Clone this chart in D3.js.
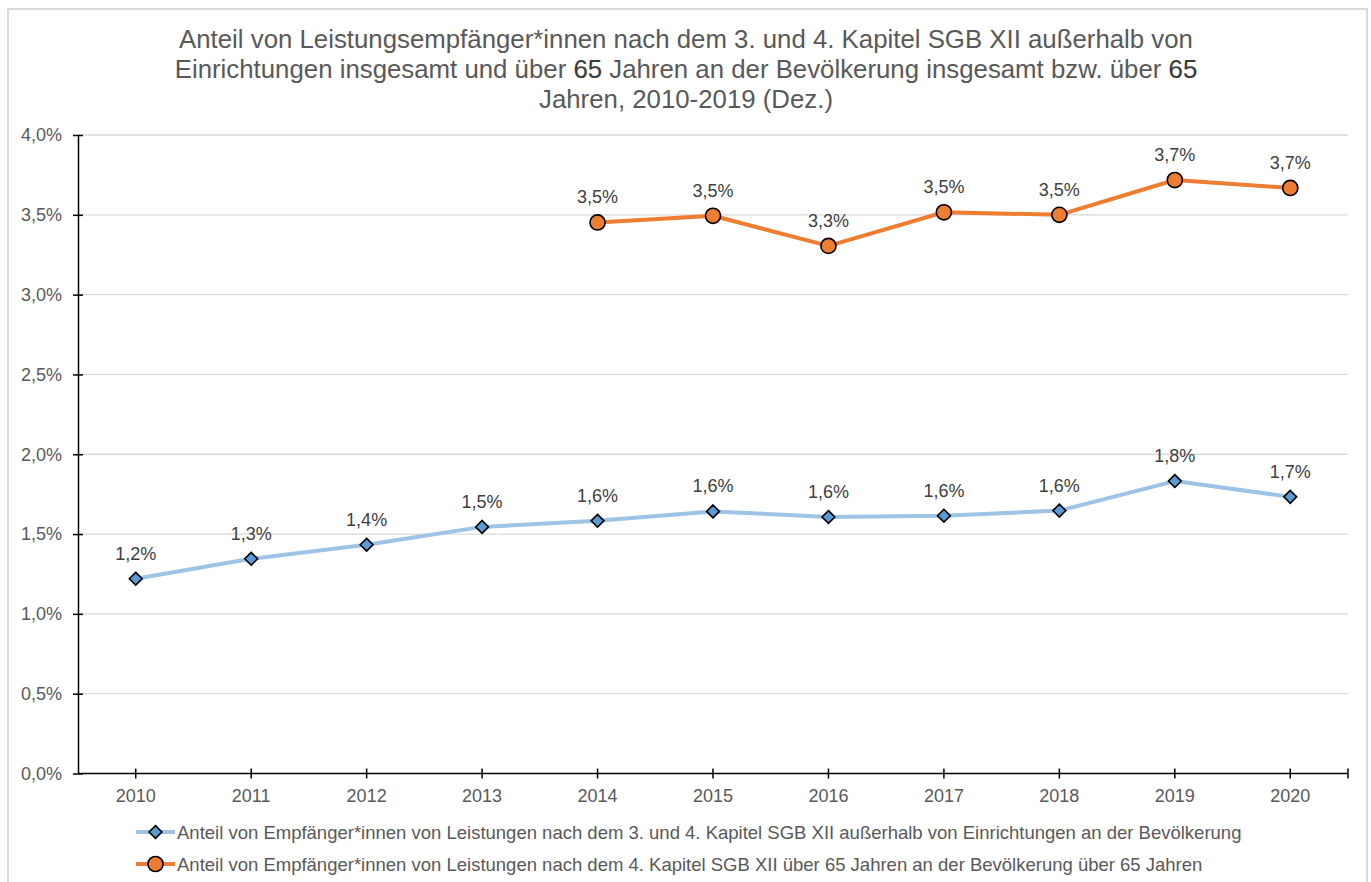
<!DOCTYPE html>
<html>
  <head>
    <meta charset="utf-8">
    <title>Anteil Leistungsempfänger*innen SGB XII</title>
    <script src="https://cdn.jsdelivr.net/npm/d3@7"></script>
    <style>
      body { margin: 0; background: #fff; }
      svg { display: block; font-family: "Liberation Sans", Arial, sans-serif; }
      .tick text { fill: #595959; font-size: 18px; }
      .label { fill: #404040; font-size: 18px; text-anchor: middle; }
    </style>
  </head>
  <body>
    <svg id="chart" width="1371" height="882"></svg>
    <script>
      // data
      years = ["2010", "2011", "2012", "2013", "2014", "2015", "2016", "2017", "2018", "2019", "2020"];
      shareTotal = [1.22, 1.345, 1.433, 1.545, 1.583, 1.642, 1.607, 1.615, 1.647, 1.832, 1.733];
      share65 = [null, null, null, null, 3.452, 3.494, 3.305, 3.516, 3.5, 3.718, 3.668];
      yTicks = [0, 0.5, 1, 1.5, 2, 2.5, 3, 3.5, 4];
      titleLines = [
        "Anteil von Leistungsempfänger*innen nach dem 3. und 4. Kapitel SGB XII außerhalb von",
        "Einrichtungen insgesamt und über 65 Jahren an der Bevölkerung insgesamt bzw. über 65",
        "Jahren, 2010-2019 (Dez.)"
      ];
      legendLabels = [
        "Anteil von Empfänger*innen von Leistungen nach dem 3. und 4. Kapitel SGB XII außerhalb von Einrichtungen an der Bevölkerung",
        "Anteil von Empfänger*innen von Leistungen nach dem 4. Kapitel SGB XII über 65 Jahren an der Bevölkerung über 65 Jahren"
      ];

      svg = d3.select("#chart");
      margin = { top: 135, right: 23, bottom: 108, left: 78 };
      width = 1371;
      height = 882;
      fmt = function(v) { return d3.format(".1f")(v).replace(".", ",") + "%"; };

      // frame
      svg.append("rect")
        .attr("x", 8).attr("y", 9)
        .attr("width", 1359).attr("height", 890)
        .attr("fill", "none")
        .attr("stroke", "#d9d9d9")
        .attr("stroke-width", 2);

      // title ("65" is a touch darker in the original)
      titleLines.forEach(function(t, i) {
        txt = svg.append("text")
          .attr("x", 686)
          .attr("y", 48 + i * 30)
          .attr("fill", "#595959")
          .attr("font-size", "25.8px")
          .attr("text-anchor", "middle");
        t.split("65").forEach(function(part, j) {
          if (j > 0) {
            txt.append("tspan").attr("fill", "#3a3a3a").attr("stroke", "#3a3a3a").attr("stroke-width", 0.15).text("65");
          }
          txt.append("tspan").text(part);
        });
      });

      x = d3.scaleBand()
        .domain(years)
        .range([margin.left, width - margin.right]);
      y = d3.scaleLinear()
        .domain([0, 4])
        .range([height - margin.bottom - 0.5, margin.top]);
      cx = function(d) { return x(d) + x.bandwidth() / 2; };

      // gridlines
      svg.append("g")
        .selectAll("line")
        .data(yTicks.slice(1))
      .enter().append("line")
        .attr("x1", margin.left).attr("x2", width - margin.right)
        .attr("y1", function(d) { return y(d); })
        .attr("y2", function(d) { return y(d); })
        .attr("stroke", "#d9d9d9")
        .attr("stroke-width", 1.3);

      // y axis
      yAxis = svg.append("g")
        .attr("transform", "translate(" + margin.left + ",0)")
        .call(d3.axisLeft(y).tickValues(yTicks).tickFormat(fmt).tickSize(5).tickPadding(11).tickSizeOuter(0));
      yAxis.select(".domain").attr("stroke", "#000").attr("stroke-width", 1.5);
      yAxis.selectAll(".tick line").attr("stroke", "#000").attr("stroke-width", 1.5).attr("x2", 5).attr("x1", -5);

      // x axis
      x0 = y(0);
      xAxis = svg.append("g");
      xAxis.append("line")
        .attr("x1", margin.left).attr("x2", width - margin.right)
        .attr("y1", x0).attr("y2", x0)
        .attr("stroke", "#000").attr("stroke-width", 1.5);
      xAxis.selectAll(".xt")
        .data(years.map(cx).concat([width - margin.right]))
      .enter().append("line")
        .attr("x1", function(d) { return d; }).attr("x2", function(d) { return d; })
        .attr("y1", x0 - 5).attr("y2", x0 + 5)
        .attr("stroke", "#000").attr("stroke-width", 1.5);
      xAxis.selectAll("text")
        .data(years)
      .enter().append("text")
        .attr("x", cx)
        .attr("y", x0 + 28)
        .attr("fill", "#595959")
        .attr("font-size", "18px")
        .attr("text-anchor", "middle")
        .text(function(d) { return d; });

      // series
      series = [
        { values: shareTotal, line: "#9dc3e6", fill: "#5b9bd5", symbol: d3.symbolDiamond2, size: 105 },
        { values: share65, line: "#ed7d31", fill: "#ed7d31", symbol: d3.symbolCircle, size: 180 }
      ];

      series.forEach(function(s) {
        pts = years.map(function(yr, i) { return { year: yr, v: s.values[i] }; })
          .filter(function(d) { return d.v !== null; });
        line = d3.line()
          .x(function(d) { return cx(d.year); })
          .y(function(d) { return y(d.v); });
        svg.append("path")
          .datum(pts)
          .attr("d", line)
          .attr("fill", "none")
          .attr("stroke", s.line)
          .attr("stroke-width", 4)
          .attr("stroke-linejoin", "round");
        svg.append("g")
          .selectAll("path")
          .data(pts)
        .enter().append("path")
          .attr("d", d3.symbol().type(s.symbol).size(s.size))
          .attr("transform", function(d) { return "translate(" + cx(d.year) + "," + y(d.v) + ")"; })
          .attr("fill", s.fill)
          .attr("stroke", "#000")
          .attr("stroke-width", 1.6);
        svg.append("g")
          .selectAll("text")
          .data(pts)
        .enter().append("text")
          .attr("class", "label")
          .attr("x", function(d) { return cx(d.year); })
          .attr("y", function(d) { return y(d.v) - 19; })
          .text(function(d) { return fmt(d.v); });
      });

      // legend
      legend = svg.append("g");
      series.forEach(function(s, i) {
        ly = 832 + i * 32;
        legend.append("line")
          .attr("x1", 136).attr("x2", 175)
          .attr("y1", ly).attr("y2", ly)
          .attr("stroke", s.line).attr("stroke-width", 4);
        legend.append("path")
          .attr("d", d3.symbol().type(s.symbol).size(s.size))
          .attr("transform", "translate(155.5," + ly + ")")
          .attr("fill", s.fill)
          .attr("stroke", "#000")
          .attr("stroke-width", 1.6);
        legend.append("text")
          .attr("x", 177)
          .attr("y", ly + 7)
          .attr("fill", "#595959")
          .attr("font-size", "18.5px")
          .text(legendLabels[i]);
      });
    </script>
  </body>
</html>
